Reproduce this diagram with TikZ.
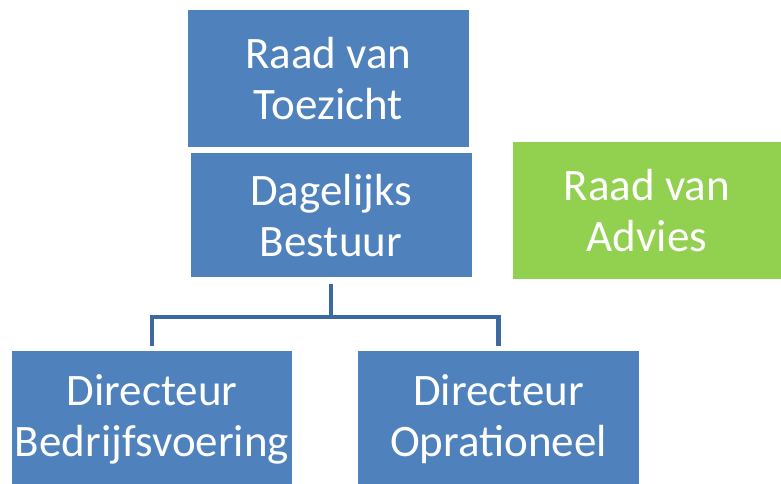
\documentclass[tikz,border=0pt]{standalone}
\usepackage{fontspec}
\setmainfont{Carlito}
\usetikzlibrary{positioning}
\definecolor{boxblue}{HTML}{4F81BD}
\definecolor{boxgreen}{HTML}{92D050}
\definecolor{lineblue}{HTML}{3D6A9E}
\tikzset{org/.style={rectangle, fill=boxblue, text=white, align=center, minimum width=281pt, minimum height=137pt, inner sep=0pt, font=\fontsize{45}{51}\selectfont}, advies/.style={org, fill=boxgreen, minimum width=268pt}, tree/.style={draw=lineblue, line width=4.5pt}}

\begin{document}
\begin{tikzpicture}[x=1pt,y=1pt]
    \useasboundingbox (0,0) rectangle (781,-484);
    \node[org] (RvT) at (328.5,-78.5) {Raad van\\Toezicht};
    \node[org,minimum height=124pt,below=6pt of RvT,xshift=2.5pt] (DB) {Dagelijks\\Bestuur};
    \node[advies] (RvA) at (647,-210.5) {Raad van\\Advies};
    \node[org,minimum width=280pt] (DirB) at (152,-419.5) {Directeur\\Bedrijfsvoering};
    \node[org] (DirO) at (498.5,-419.5) {Directeur\\Oprationeel};
    \coordinate (split) at (331,-317);
    \draw[tree,shorten <=6pt] (DB.south) -- (split);
    \draw[tree,shorten >=5pt] (split) -| (DirB.north);
    \draw[tree,shorten >=5pt] (split) -| (DirO.north);
\end{tikzpicture}
\end{document}
